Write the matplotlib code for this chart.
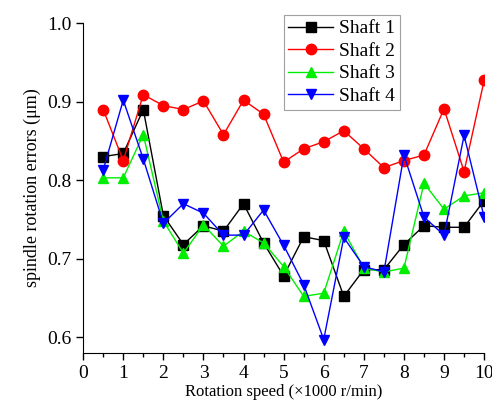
import numpy as np
import matplotlib.pyplot as plt
from matplotlib.ticker import MultipleLocator

plt.rcParams['font.family'] = ['Liberation Serif', 'DejaVu Serif']
plt.rcParams['mathtext.fontset'] = 'stix'

speed = [0.5, 1, 1.5, 2, 2.5, 3, 3.5, 4, 4.5, 5, 5.5, 6, 6.5, 7, 7.5, 8, 8.5, 9, 9.5, 10]
shaft1 = [0.830, 0.834, 0.890, 0.755, 0.718, 0.742, 0.735, 0.770, 0.720, 0.678,
          0.728, 0.723, 0.652, 0.686, 0.686, 0.718, 0.742, 0.740, 0.740, 0.774]
shaft2 = [0.890, 0.825, 0.909, 0.895, 0.890, 0.901, 0.858, 0.902, 0.884, 0.823,
          0.840, 0.849, 0.863, 0.840, 0.816, 0.825, 0.832, 0.891, 0.811, 0.927]
shaft3 = [0.803, 0.803, 0.858, 0.748, 0.707, 0.743, 0.716, 0.735, 0.720, 0.690,
          0.652, 0.656, 0.735, 0.688, 0.683, 0.688, 0.796, 0.763, 0.780, 0.784]
shaft4 = [0.813, 0.902, 0.827, 0.745, 0.770, 0.758, 0.730, 0.730, 0.762, 0.717,
          0.667, 0.597, 0.727, 0.690, 0.683, 0.832, 0.753, 0.730, 0.857, 0.753]

series = [shaft1, shaft2, shaft3, shaft4]
labels = ['Shaft 1', 'Shaft 2', 'Shaft 3', 'Shaft 4']
colors = ['black', '#ff0000', '#00ee00', '#0000ff']
markers = ['s', 'o', '^', 'v']

fig = plt.figure(figsize=(4.92, 4.07), dpi=100)
ax = fig.add_axes([0.169, 0.133, 0.815, 0.81])

for y, lab, c, m in zip(series, labels, colors, markers):
    ax.plot(speed, y, color=c, marker=m, markersize=7.5, linewidth=1, label=lab)

ax.set_xlim(0, 10)
ax.set_ylim(0.58, 1.0)
ax.xaxis.set_major_locator(MultipleLocator(1))
ax.xaxis.set_minor_locator(MultipleLocator(0.5))
ax.yaxis.set_major_locator(MultipleLocator(0.1))
ax.yaxis.set_major_formatter(plt.FormatStrFormatter('%.1f'))
ax.spines['top'].set_visible(False)
ax.spines['right'].set_visible(False)
ax.tick_params(which='major', direction='out', length=5, width=1, labelsize=14)
ax.tick_params(which='minor', direction='out', length=3, width=1)
ax.set_xlabel('Rotation speed (×1000 r/min)', fontsize=12, labelpad=2)
ax.set_ylabel('spindle rotation errors (μm)', fontsize=13, labelpad=4)

leg = ax.legend(loc='upper left', bbox_to_anchor=(0.5, 1.025), fontsize=14,
                frameon=True, fancybox=False, edgecolor='#888888',
                handlelength=2.3, handletextpad=0.3, borderpad=0.25,
                labelspacing=0.25, borderaxespad=0)
leg.get_frame().set_linewidth(0.8)

plt.savefig('out.png', dpi=100)
